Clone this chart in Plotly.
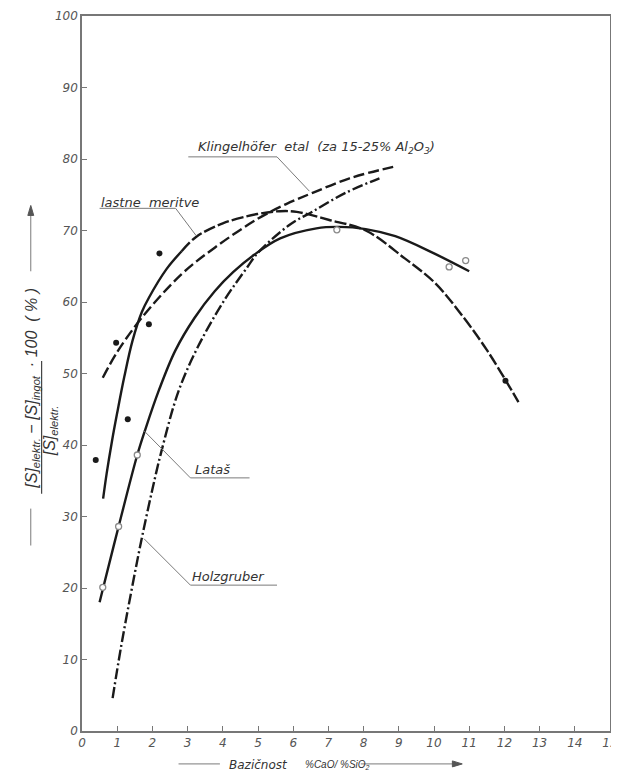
import plotly.graph_objects as go

# ---------------- data ----------------
x_ticks = list(range(0, 16))
y_ticks = list(range(0, 101, 10))

# "lastne meritve" curve (solid start, then long dash)
lastne_solid_x = [0.6, 0.7, 0.85, 1.0, 1.2, 1.43, 1.7, 1.9, 2.4, 2.83]
lastne_solid_y = [32.5, 36.0, 40.5, 44.5, 49.5, 54.5, 58.6, 60.6, 64.6, 67.1]
lastne_dash_x = [2.83, 3.24, 4.0, 4.98, 5.63, 6.1, 7.0, 8.06, 9.17, 10.0, 10.66, 11.5, 12.4]
lastne_dash_y = [67.1, 69.1, 71.0, 72.3, 72.7, 72.6, 71.5, 70.0, 66.1, 62.8, 59.0, 53.3, 46.0]
lastne_pts_x = [0.39, 0.97, 1.3, 1.9, 2.2, 12.03]
lastne_pts_y = [37.9, 54.3, 43.6, 56.9, 66.8, 49.0]

# Klingelhöfer et al.
kling_x = [0.59, 1.0, 1.7, 2.83, 3.77, 4.98, 5.8, 6.57, 7.6, 8.84]
kling_y = [49.4, 53.0, 57.8, 63.9, 67.6, 71.6, 73.7, 75.3, 77.3, 78.9]

# Lataš
latas_x = [0.5, 0.6, 1.04, 1.57, 1.8, 2.18, 2.65, 3.2, 3.77, 4.3, 4.89, 5.63, 6.66, 7.3, 8.06, 8.9, 10.0, 11.0]
latas_y = [18.0, 20.0, 28.6, 38.6, 42.2, 47.6, 53.2, 57.8, 61.5, 64.2, 66.6, 68.9, 70.3, 70.5, 70.2, 69.2, 66.8, 64.3]
latas_pts_x = [0.59, 1.04, 1.57, 7.24, 10.43, 10.9]
latas_pts_y = [20.1, 28.6, 38.6, 70.1, 64.9, 65.8]

# Holzgruber
holz_x = [0.87, 1.1, 1.4, 1.7, 2.0, 2.24, 2.74, 3.3, 4.05, 4.7, 5.0, 5.9, 6.57, 7.5, 8.45]
holz_y = [4.6, 11.5, 19.5, 27.0, 33.8, 38.8, 47.5, 53.8, 60.3, 64.9, 66.9, 70.8, 72.7, 75.3, 77.3]

# ---------------- figure ----------------
INK = "#1a1a1a"
GREY = "#777777"
FONT = "DejaVu Sans"

fig = go.Figure()


def curve(x, y, dash, width=2.4):
    fig.add_trace(go.Scatter(
        x=x, y=y, mode="lines",
        line=dict(color=INK, width=width, dash=dash, shape="spline", smoothing=1.0),
        hoverinfo="skip", showlegend=False))


curve(kling_x, kling_y, "11px,4px")
curve(holz_x, holz_y, "11px,3px,2px,3px")
curve(latas_x, latas_y, "solid")
curve(lastne_solid_x, lastne_solid_y, "solid")
curve(lastne_dash_x, lastne_dash_y, "12px,3px")

fig.add_trace(go.Scatter(
    x=latas_pts_x, y=latas_pts_y, mode="markers",
    marker=dict(symbol="circle", size=6, color="white", line=dict(color="#8a8a8a", width=1.3)),
    hoverinfo="skip", showlegend=False))
fig.add_trace(go.Scatter(
    x=lastne_pts_x, y=lastne_pts_y, mode="markers",
    marker=dict(symbol="circle", size=6, color=INK),
    hoverinfo="skip", showlegend=False))

tickfont = dict(family=FONT, size=12, color="#555555", style="italic")
axis_common = dict(
    showgrid=False, zeroline=False, showline=True, linecolor=GREY, linewidth=1.5,
    mirror=True, ticks="inside", ticklen=5, tickwidth=1, tickcolor=GREY,
    tickfont=tickfont, fixedrange=True, ticklabeloverflow="allow")

fig.update_xaxes(range=[0, 15], tickvals=x_ticks, **axis_common)
fig.update_yaxes(range=[0, 100], tickvals=y_ticks, **axis_common)

labfont = dict(family=FONT, size=13, color="#333333", style="italic")
LEAD = dict(color="#7a7a7a", width=1)

# in-plot labels: (text, x, y, underline x0, x1, y, leader start x, leader end x, y)
labels = [
    ("Klingelhöfer  etal  (za 15-25% Al<sub>2</sub>O<sub>3</sub>)", 6.66, 81.6, 3.02, 5.54, 80.3, 5.54, 6.46, 75.5),
    ("lastne  meritve", 1.93, 73.9, 0.5, 2.66, 73.1, 2.66, 3.24, 69.3),
    ("Lataš", 3.72, 36.6, 3.08, 4.76, 35.4, 3.08, 1.76, 42.0),
    ("Holzgruber", 4.17, 21.6, 3.08, 5.54, 20.4, 3.08, 1.76, 26.9),
]
for text, tx, ty, ux0, ux1, uy, sx, lx, ly in labels:
    fig.add_annotation(x=tx, y=ty, text=text, showarrow=False, font=labfont,
                       xanchor="center", yanchor="middle")
    fig.add_shape(type="line", x0=ux0, x1=ux1, y0=uy, y1=uy, line=LEAD)
    fig.add_shape(type="line", x0=sx, y0=uy, x1=lx, y1=ly, line=LEAD)

# ---------- axis titles (paper coords; page pixels -> paper) ----------
W, H = 536.0, 717.0
X0, Y0 = 82.0, 731.0


def px(xp):
    return (xp - X0) / W


def py(yp):
    return (Y0 - yp) / H


def arrow_head(points):
    d = "M " + " L ".join(f"{px(a):.5f},{py(b):.5f}" for a, b in points) + " Z"
    fig.add_shape(type="path", xref="paper", yref="paper", path=d,
                  fillcolor="#555555", line=dict(color="#555555", width=1))


titlefont = dict(family=FONT, size=12, color="#333333", style="italic")
# x title
fig.add_annotation(xref="paper", yref="paper", x=px(229), y=py(765), xanchor="left", yanchor="middle",
                   text="Bazičnost", showarrow=False, font=titlefont)
fig.add_annotation(xref="paper", yref="paper", x=px(306), y=py(765), xanchor="left", yanchor="middle",
                   text="%CaO/ %SiO<sub>2</sub>", showarrow=False,
                   font=dict(family="Liberation Sans", size=10, color="#333333", style="italic"))
fig.add_shape(type="line", xref="paper", yref="paper", x0=px(180), x1=px(222),
              y0=py(764), y1=py(764), line=LEAD)
fig.add_shape(type="line", xref="paper", yref="paper", x0=px(365), x1=px(462),
              y0=py(764), y1=py(764), line=LEAD)
arrow_head([(468, 764), (458, 761), (458, 767)])

# y title (vertical fraction)
ytf = dict(family="Liberation Sans", size=16, color="#333333", style="italic")
fig.add_annotation(xref="paper", yref="paper", x=px(32), y=py(387), textangle=-90,
                   xanchor="center", yanchor="middle",
                   text="[S]<sub>elektr.</sub> − [S]<sub>ingot</sub>  · 100  ( % )",
                   showarrow=False, font=ytf)
fig.add_shape(type="line", xref="paper", yref="paper", x0=px(41), x1=px(41),
              y0=py(493), y1=py(360), line=dict(color="#444444", width=1.2))
fig.add_annotation(xref="paper", yref="paper", x=px(50), y=py(430), textangle=-90,
                   xanchor="center", yanchor="middle",
                   text="[S]<sub>elektr.</sub>", showarrow=False, font=ytf)
fig.add_shape(type="line", xref="paper", yref="paper", x0=px(30), x1=px(30),
              y0=py(545), y1=py(508), line=LEAD)
fig.add_shape(type="line", xref="paper", yref="paper", x0=px(30), x1=px(30),
              y0=py(270), y1=py(212), line=LEAD)
arrow_head([(30, 204), (27, 214), (33, 214)])

# the page body has an 8px default margin, so the figure is 8px smaller
fig.update_layout(
    width=611, height=768,
    margin=dict(l=74, r=1, t=6, b=45),
    paper_bgcolor="white", plot_bgcolor="white",
    showlegend=False,
)

fig.write_html("out.html")
